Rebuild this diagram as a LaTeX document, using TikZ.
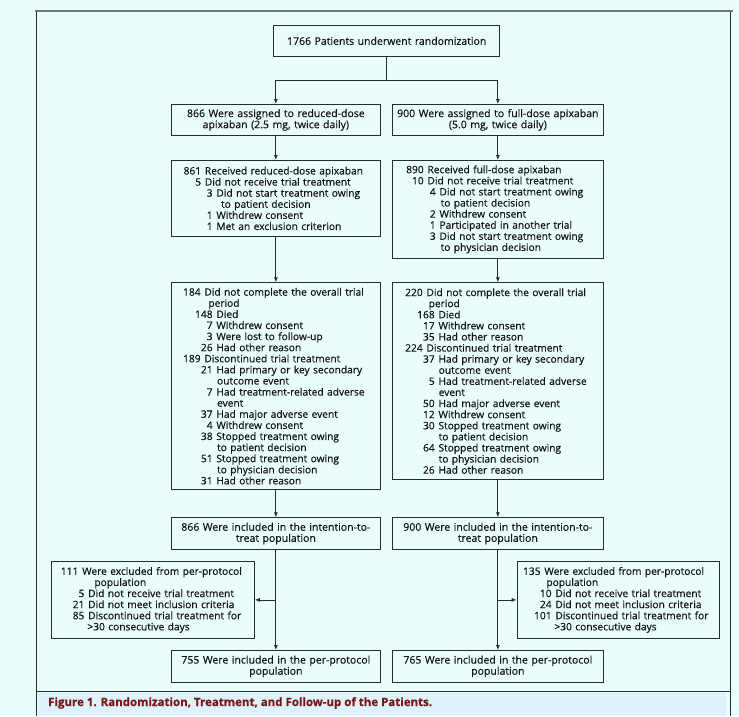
\documentclass[tikz,border=0pt]{standalone}
\usepackage{fontspec}
\setmainfont{Open Sans}[RawFeature={embolden=0.5}]
\usetikzlibrary{arrows.meta}
\definecolor{bg}{RGB}{234,253,253}
\definecolor{capbg}{RGB}{222,242,251}
\definecolor{lncol}{RGB}{40,44,44}
\definecolor{toplncol}{RGB}{110,122,122}
\definecolor{capred}{RGB}{120,25,25}
\definecolor{txt}{RGB}{20,20,20}
\newcommand\NL[3]{\hspace*{#1pt}\llap{#2}\hspace{3.8pt}\mbox{#3}}
\newcommand\CL[2]{\hspace*{#1pt}\mbox{#2}}
\tikzset{
  box/.style={draw=lncol, line width=0.8pt, fill=bg, anchor=north west, inner sep=0pt, text=txt, font=\fontsize{10.2}{11.1}\selectfont},
  cbox/.style={box, align=center, font=\fontsize{10.5}{11.1}\selectfont},
  lbox/.style={box, align=left},
  conn/.style={draw=lncol, line width=0.8pt},
  arr/.style={conn, -{Latex[length=5pt,width=4pt]}},
}
\begin{document}
\begin{tikzpicture}[x=1pt,y=-1pt]
\useasboundingbox (0,0) rectangle (739,716);
\fill[bg] (0,0) rectangle (739,716);
\fill[capbg] (38,693) rectangle (726,716);
\draw[toplncol, line width=2.2pt] (35,11.3) -- (733,11.3);
\draw[lncol, line width=1.3pt] (36.7,12) -- (36.7,716);
\draw[lncol, line width=1.3pt] (730.7,12) -- (730.7,716);
\draw[lncol, line width=1pt] (36.7,691.7) -- (730.7,691.7);

\node[cbox, text width=226pt, minimum height=31pt] (T) at (273.3,25) {1766 Patients underwent randomization};

\node[cbox, text width=209.5pt, minimum height=31pt] (A2L) at (170.7,104) {866 Were assigned to reduced-dose\\apixaban (2.5 mg, twice daily)};
\node[cbox, text width=210.3pt, minimum height=31pt] (A2R) at (392.3,104) {900 Were assigned to full-dose apixaban\\(5.0 mg, twice daily)};

\node[lbox, text width=209.5pt, minimum height=76pt] (A3L) at (170.7,160) {%
\NL{30}{861}{Received reduced-dose apixaban}\\
\NL{30}{5}{Did not receive trial treatment}\\
\NL{41.5}{3}{Did not start treatment owing}\\
\CL{50}{to patient decision}\\
\NL{41.5}{1}{Withdrew consent}\\
\NL{41.5}{1}{Met an exclusion criterion}};

\node[lbox, text width=210.3pt, minimum height=98pt] (A3R) at (392.3,160) {%
\NL{31}{890}{Received full-dose apixaban}\\
\NL{31}{10}{Did not receive trial treatment}\\
\NL{43}{4}{Did not start treatment owing}\\
\CL{48}{to patient decision}\\
\NL{43}{2}{Withdrew consent}\\
\NL{43}{1}{Participated in another trial}\\
\NL{43}{3}{Did not start treatment owing}\\
\CL{48}{to physician decision}};

\node[lbox, text width=209.5pt, minimum height=207pt] (A4L) at (170.7,282.3) {%
\NL{29.5}{184}{Did not complete the overall trial}\\
\CL{37.3}{period}\\
\NL{41.5}{148}{Died}\\
\NL{41.5}{7}{Withdrew consent}\\
\NL{41.5}{3}{Were lost to follow-up}\\
\NL{41.5}{26}{Had other reason}\\
\NL{29.5}{189}{Discontinued trial treatment}\\
\NL{41.5}{21}{Had primary or key secondary}\\
\CL{46}{outcome event}\\
\NL{41.5}{7}{Had treatment-related adverse}\\
\CL{46}{event}\\
\NL{41.5}{37}{Had major adverse event}\\
\NL{41.5}{4}{Withdrew consent}\\
\NL{41.5}{38}{Stopped treatment owing}\\
\CL{46}{to patient decision}\\
\NL{41.5}{51}{Stopped treatment owing}\\
\CL{46}{to physician decision}\\
\NL{41.5}{31}{Had other reason}};

\node[lbox, text width=210.3pt, minimum height=196.7pt] (A4R) at (392.3,282.3) {%
\NL{30}{220}{Did not complete the overall trial}\\
\CL{36}{period}\\
\NL{42}{168}{Died}\\
\NL{42}{17}{Withdrew consent}\\
\NL{42}{35}{Had other reason}\\
\NL{30}{224}{Discontinued trial treatment}\\
\NL{42}{37}{Had primary or key secondary}\\
\CL{46}{outcome event}\\
\NL{42}{5}{Had treatment-related adverse}\\
\CL{46}{event}\\
\NL{42}{50}{Had major adverse event}\\
\NL{42}{12}{Withdrew consent}\\
\NL{42}{30}{Stopped treatment owing}\\
\CL{46}{to patient decision}\\
\NL{42}{64}{Stopped treatment owing}\\
\CL{46}{to physician decision}\\
\NL{42}{26}{Had other reason}};

\node[cbox, text width=209.5pt, minimum height=31.7pt] (ITTL) at (170.7,517.3) {866 Were included in the intention-to-\\treat population};
\node[cbox, text width=210.3pt, minimum height=31.7pt] (ITTR) at (392.3,517.3) {900 Were included in the intention-to-\\treat population};

\node[lbox, text width=203pt, minimum height=77pt] (EXL) at (51,561) {%
\NL{27}{111}{Were excluded from per-protocol}\\
\CL{43}{population}\\
\NL{33}{5}{Did not receive trial treatment}\\
\NL{33}{21}{Did not meet inclusion criteria}\\
\NL{33}{85}{Discontinued trial treatment for}\\
\CL{36}{>30 consecutive days}};

\node[lbox, text width=202.6pt, minimum height=77pt] (EXR) at (516.7,561) {%
\NL{23.5}{135}{Were excluded from per-protocol}\\
\CL{29.3}{population}\\
\NL{34.5}{10}{Did not receive trial treatment}\\
\NL{34.5}{24}{Did not meet inclusion criteria}\\
\NL{34.5}{101}{Discontinued trial treatment for}\\
\CL{37.3}{>30 consecutive days}};

\node[cbox, text width=209.5pt, minimum height=32pt] (PPL) at (170.7,650) {755 Were included in the per-protocol\\population};
\node[cbox, text width=210.3pt, minimum height=32pt] (PPR) at (392.3,650) {765 Were included in the per-protocol\\population};

\node[anchor=base west, inner sep=0pt, text=capred, font=\bfseries\fontsize{11.5}{13}\selectfont] (cap) at (48,706) {Figure 1. Randomization, Treatment, and Follow-up of the Patients.};

\draw[conn] (T.south) -- ++(0,24) coordinate (br);
\draw[arr] (br) -| (A2L.north);
\draw[arr] (br) -| (A2R.north);
\draw[arr] (A2L.south) -- (A3L.north);
\draw[arr] (A2R.south) -- (A3R.north);
\draw[arr] (A3L.south) -- (A4L.north);
\draw[arr] (A3R.south) -- (A4R.north);
\draw[arr] (A4L.south) -- (ITTL.north);
\draw[arr] (A4R.south) -- (ITTR.north);
\draw[arr] (ITTL.south) -- (PPL.north);
\draw[arr] (ITTR.south) -- (PPR.north);
\draw[arr] (ITTL.south |- EXL.east) -- (EXL.east);
\draw[arr] (ITTR.south |- EXR.west) -- (EXR.west);
\end{tikzpicture}
\end{document}
